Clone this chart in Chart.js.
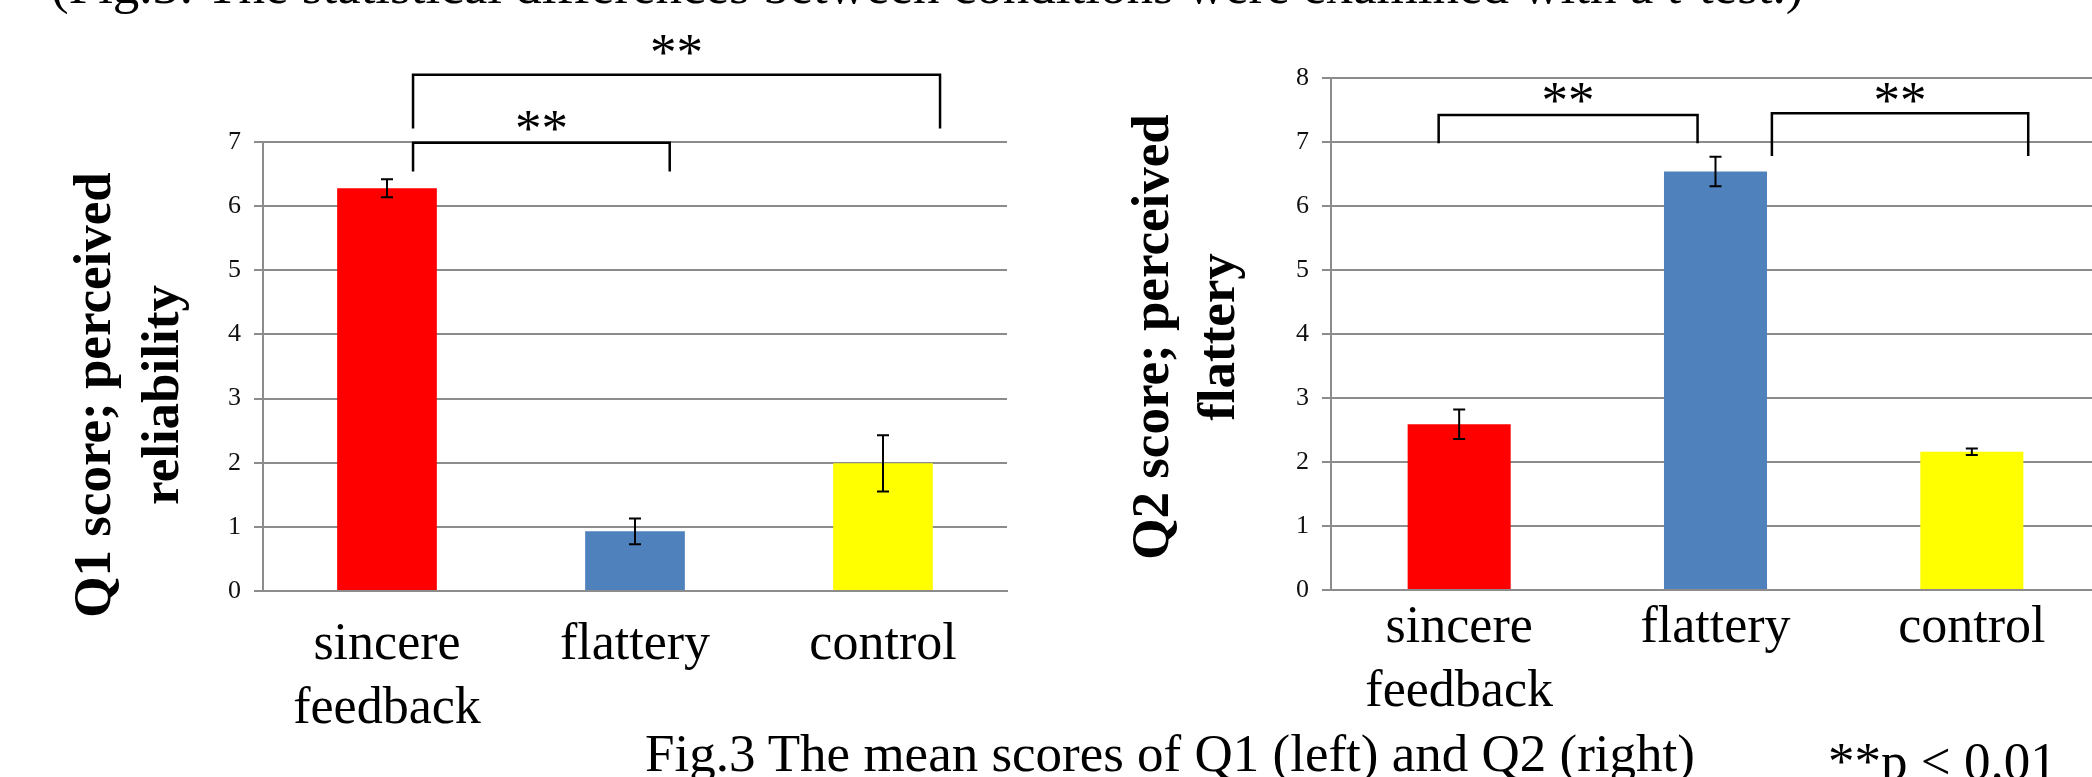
<!DOCTYPE html>
<html>
<head>
<meta charset="utf-8">
<script src="https://cdn.jsdelivr.net/npm/chart.js@4.4.1/dist/chart.umd.min.js"></script>
<style>
html, body { margin: 0; padding: 0; width: 2092px; height: 777px; overflow: hidden; background: #fff; }
.txt { position: absolute; font-family: "Liberation Serif", "Times New Roman", serif; white-space: nowrap; line-height: 1; color: #000; }
#note { left: 51px; top: -41px; font-size: 53px; }
#caption { left: 645px; top: 727px; font-size: 53px; }
#pval { left: 1828px; top: 735px; font-size: 53px; }
canvas { position: absolute; top: 0; }
#q1 { left: 0; }
#q2 { left: 1040px; }
</style>
</head>
<body>
<div class="txt" id="note">(Fig.3: The statistical differences between conditions were examined with a t-test.)</div>
<canvas id="q1" width="1040" height="777"></canvas>
<canvas id="q2" width="1080" height="777"></canvas>
<div class="txt" id="caption">Fig.3 The mean scores of Q1 (left) and Q2 (right)</div>
<div class="txt" id="pval">**p &lt; 0.01</div>
<script>
// Data
const categories = [["sincere", "feedback"], "flattery", "control"];
const q1Means = [6.28, 0.93, 1.99];
const q1Errors = [0.14, 0.20, 0.44];
const q2Means = [2.59, 6.54, 2.16];
const q2Errors = [0.23, 0.23, 0.05];
const q1Max = 7;
const q2Max = 8;
const sigLabel = "**";

// Styles
const barColors = ["#FF0000", "#4F81BD", "#FFFF00"];
const gridColor = "#8c8c8c";
const serif = "'Liberation Serif', 'Times New Roman', serif";

// Plugins
const errorBarPlugin = {
    id: "errorBars",
    afterDatasetsDraw(chart, args, opts) {
        const ctx = chart.ctx;
        const y = chart.scales.y;
        const meta = chart.getDatasetMeta(0);
        const values = chart.data.datasets[0].data;
        ctx.save();
        ctx.strokeStyle = "#000";
        ctx.lineWidth = 2;
        meta.data.forEach((bar, i) => {
            const yTop = y.getPixelForValue(values[i] + opts.errors[i]);
            const yBot = y.getPixelForValue(values[i] - opts.errors[i]);
            ctx.beginPath();
            ctx.moveTo(bar.x, yTop);
            ctx.lineTo(bar.x, yBot);
            ctx.moveTo(bar.x - 6, yTop);
            ctx.lineTo(bar.x + 6, yTop);
            ctx.moveTo(bar.x - 6, yBot);
            ctx.lineTo(bar.x + 6, yBot);
            ctx.stroke();
        });
        ctx.restore();
    }
};

const bracketPlugin = {
    id: "brackets",
    afterDraw(chart, args, opts) {
        const ctx = chart.ctx;
        const {x, y} = chart.scales;
        ctx.save();
        ctx.strokeStyle = "#000";
        ctx.fillStyle = "#000";
        ctx.lineWidth = 2.5;
        ctx.font = "53px " + serif;
        ctx.textAlign = "center";
        ctx.textBaseline = "alphabetic";
        opts.items.forEach(b => {
            const x0 = x.getPixelForValue(b.from);
            const x1 = x.getPixelForValue(b.to);
            const yt = y.getPixelForValue(b.top);
            ctx.beginPath();
            ctx.moveTo(x0, y.getPixelForValue(b.end));
            ctx.lineTo(x0, yt);
            ctx.lineTo(x1, yt);
            ctx.lineTo(x1, y.getPixelForValue(b.end));
            ctx.stroke();
            ctx.fillText(sigLabel, (x0 + x1) / 2, y.getPixelForValue(b.labelAt));
        });
        ctx.restore();
    }
};

const yTitlePlugin = {
    id: "yTitle",
    afterDraw(chart, args, opts) {
        const ctx = chart.ctx;
        ctx.save();
        ctx.fillStyle = "#000";
        ctx.font = "bold 53px " + serif;
        ctx.textAlign = "center";
        ctx.textBaseline = "alphabetic";
        opts.lines.forEach((line, i) => {
            ctx.save();
            ctx.translate(opts.x[i], opts.y);
            ctx.rotate(-Math.PI / 2);
            ctx.fillText(line, 0, 0);
            ctx.restore();
        });
        ctx.restore();
    }
};

function makeChart(id, means, errors, yMax, layout) {
    return new Chart(document.getElementById(id), {
        type: "bar",
        data: {
            labels: categories,
            datasets: [{
                data: means,
                backgroundColor: barColors,
                borderWidth: 0,
                barPercentage: 0.402,
                categoryPercentage: 1
            }]
        },
        options: {
            responsive: false,
            animation: false,
            devicePixelRatio: 1,
            layout: { padding: layout.padding },
            plugins: {
                legend: { display: false },
                tooltip: { enabled: false },
                errorBars: { errors: errors },
                brackets: { items: layout.brackets },
                yTitle: layout.title
            },
            scales: {
                x: {
                    afterFit: s => { s.height = layout.xHeight; },
                    grid: { display: false, drawTicks: false, tickLength: 0 },
                    border: { color: gridColor, width: 2 },
                    ticks: {
                        color: "#000",
                        font: { family: serif, size: 52, lineHeight: 1.23 },
                        padding: layout.xPad,
                        maxRotation: 0,
                        autoSkip: false
                    }
                },
                y: {
                    min: 0,
                    max: yMax,
                    afterFit: s => { s.width = layout.yWidth; },
                    grid: { color: gridColor, lineWidth: 2, tickLength: 9 },
                    border: { color: gridColor, width: 2 },
                    ticks: {
                        stepSize: 1,
                        color: "#111",
                        padding: 13,
                        font: { family: serif, size: 26 }
                    }
                }
            }
        },
        plugins: [errorBarPlugin, bracketPlugin, yTitlePlugin]
    });
}

makeChart("q1", q1Means, q1Errors, q1Max, {
    padding: { top: 142, left: 0, right: 33, bottom: 0 },
    yWidth: 263,
    xHeight: 186,
    xPad: 22,
    title: { lines: ["Q1 score; perceived", "reliability"], x: [110, 178], y: 395 },
    brackets: [
        { from: 0.105, to: 2.23, top: 8.05, end: 7.21, labelAt: 8.13 },
        { from: 0.105, to: 1.14, top: 6.99, end: 6.54, labelAt: 6.94 }
    ]
});

makeChart("q2", q2Means, q2Errors, q2Max, {
    padding: { top: 78, left: 0, right: 20, bottom: 0 },
    yWidth: 291,
    xHeight: 187,
    xPad: 6,
    title: { lines: ["Q2 score; perceived", "flattery"], x: [128, 194], y: 337 },
    brackets: [
        { from: -0.08, to: 0.93, top: 7.42, end: 6.98, labelAt: 7.38 },
        { from: 1.22, to: 2.22, top: 7.45, end: 6.78, labelAt: 7.38 }
    ]
});
</script>
</body>
</html>
